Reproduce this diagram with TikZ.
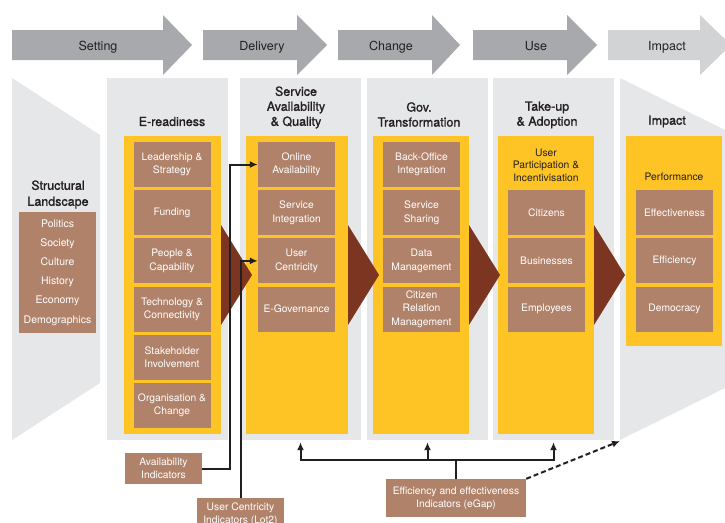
\documentclass[tikz,border=0pt]{standalone}
\usepackage{fontspec}
\setmainfont{TeX Gyre Heros}
\newfontfamily\headfont[FakeBold=1.3]{TeX Gyre Heros}
\usepackage{xcolor}
\usepackage{tikz}
\usetikzlibrary{positioning}
\usetikzlibrary{arrows.meta}

\definecolor{panelgray}{HTML}{E6E7E8}
\definecolor{stagegray}{HTML}{A7A9AC}
\definecolor{stagelight}{HTML}{D1D3D4}
\definecolor{ambar}{HTML}{FEC325}
\definecolor{itembrown}{HTML}{B0826A}
\definecolor{wedgebrown}{HTML}{7B3520}
\definecolor{inkdark}{HTML}{231F20}

\tikzset{
  item/.style={fill=itembrown, text=white, minimum width=77pt, minimum height=45pt,
    align=center, inner sep=0pt, font=\fontsize{10.3}{13.3}\selectfont},
  panel/.style={fill=panelgray, minimum width=121pt, minimum height=362pt, inner sep=0pt},
  coltitle/.style={align=center, text=inkdark, inner sep=0pt, font=\headfont\fontsize{12.5}{15}\selectfont},
  stagelabel/.style={text=inkdark, inner sep=0pt, anchor=base, font=\fontsize{12.5}{15}\selectfont},
  yellownote/.style={align=center, text=inkdark, inner sep=0pt, font=\fontsize{10.3}{12.6}\selectfont},
  link/.style={line width=2pt, inkdark, -{Latex[length=8pt,width=7pt]}},
}

\begin{document}
\begin{tikzpicture}[x=1pt,y=-1pt]
\useasboundingbox (0,0) rectangle (725,522);
\clip (0,0) rectangle (725,522);

% stages along the top
\foreach \xa/\xb/\xc/\xl/\col/\lab in {12/163/192/98/stagegray/Setting, 203/297/327/262/stagegray/Delivery,
  338/432/460/391/stagegray/Change, 473/567/597/536/stagegray/Use, 608/700/731/667/stagelight/Impact}
{
\fill[\col] (\xa,30) -- (\xb,30) -- (\xb,15) -- (\xc,45) -- (\xb,75) -- (\xb,60) -- (\xa,60) -- cycle;
\node[stagelabel] (stage-\lab) at (\xl,50.5) {\lab};
}

% grey columns
\fill[panelgray] (12,78) -- (100,135) -- (100,383) -- (12,440) -- cycle;
\fill[panelgray] (620,78) -- (725,130) -- (725,388) -- (620,440) -- cycle;
\foreach \nm/\xl in {er/107, sa/240, gt/367, tu/493}
\node[panel] (\nm-panel) at (\xl+60.5,259) {};

% yellow blocks
\fill[ambar] (124,136) rectangle (221,434);
\fill[ambar] (246,136) rectangle (348,434);
\fill[ambar] (373,136) rectangle (469,434);
\fill[ambar] (498,136) rectangle (594,434);
\fill[ambar] (626,136) rectangle (722,346);

% items
\foreach \lab [count=\i] in {{Leadership \&\\Strategy}, Funding, {People \&\\Capability},
  {Technology \&\\Connectivity}, {Stakeholder\\Involvement}, {Organisation \&\\Change}}
\node[item] (er\i) at (172,{116.3+48.2*\i}) {\lab};

\foreach \lab [count=\i] in {{Online\\Availability}, {Service\\Integration}, {User\\Centricity}, E-Governance}
\node[item] (sa\i) at (296.5,{116.3+48.2*\i}) {\lab};

\foreach \lab [count=\i] in {{Back-Office\\Integration}, {Service\\Sharing}, {Data\\Management},
  {Citizen\\Relation\\Management}}
\node[item] (gt\i) at (421.5,{116.3+48.2*\i}) {\lab};

\foreach \lab [count=\i] in {Citizens, Businesses, Employees}
\node[item] (tu\i) at (546.5,{164.5+48.2*\i}) {\lab};

\foreach \lab [count=\i] in {Effectiveness, Efficiency, Democracy}
\node[item] (im\i) at (674.5,{164.5+48.2*\i}) {\lab};

\node[item, minimum height=121pt, font=\fontsize{10.5}{19.2}\selectfont] (sl-box) at (57.5,272.5)
{Politics\\Society\\Culture\\History\\Economy\\Demographics};

\node[yellownote] (tu-head) at (546,165) {User\\Participation \&\\Incentivisation};
\node[yellownote] (im-head) at (674,177) {Performance};

% wedges between columns
\foreach \xw in {221,348,469,594}
\fill[wedgebrown] (\xw,225) -- (\xw+31,275) -- (\xw,325) -- cycle;

% column titles
\node[coltitle, font=\headfont\fontsize{12.5}{16}\selectfont] (sl-title) at (58,194.5) {Structural\\Landscape};
\node[coltitle] (er-title) at (172,121.5) {E-readiness};
\node[coltitle] (sa-title) at (296,107.5) {Service\\Availability\\\& Quality};
\node[coltitle] (gt-title) at (419,114.5) {Gov.\\Transformation};
\node[coltitle] (tu-title) at (547,115) {Take-up\\\& Adoption};
\node[coltitle] (im-title) at (667,121.5) {Impact};

% indicators
\node[item, minimum height=31pt] (avail) at (163.5,468.5) {Availability\\Indicators};
\node[item, minimum width=87pt, minimum height=32pt] (ucind) at (240.5,514) {User Centricity\\Indicators (Lot2)};
\node[item, minimum width=140pt, minimum height=38pt] (effind) at (456,498)
{Efficiency and effectiveness\\Indicators (eGap)};

\draw[link] (avail.east) -- ++(28,0) |- (sa1.west);
\draw[link] (ucind.north) |- (sa3.west);
\draw[link, -] (effind.north) -- ++(0,-19) coordinate (fork);
\draw[link, shorten >=2pt] (fork) -| (sa-panel.south);
\draw[link, shorten >=2pt] (fork) -| (tu-panel.south);
\draw[link, shorten >=2pt] (gt-panel.south |- fork) -- (gt-panel.south);
\coordinate (im-base) at (620,441);
\draw[link, dash pattern=on 5pt off 3pt] (effind.north east) -- (im-base);

\end{tikzpicture}
\end{document}
